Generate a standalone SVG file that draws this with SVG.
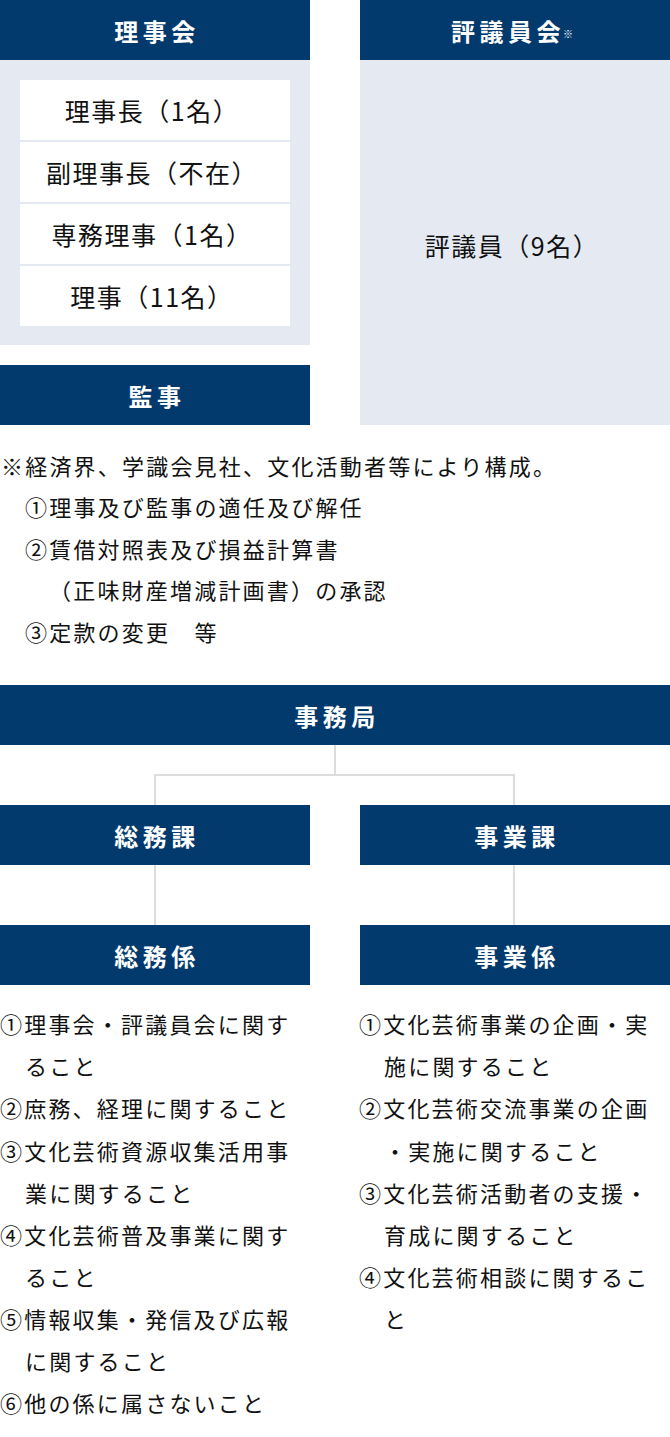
<svg xmlns="http://www.w3.org/2000/svg" width="670" height="1437" viewBox="0 0 670 1437">
<style>
.hd{fill:#023a6d}
.pn{fill:#e5e9f1}
.rw{fill:#ffffff}
.ht{font-family:"Noto Sans CJK JP","Noto Sans",sans-serif;font-weight:bold;font-size:24px;fill:#fff;text-anchor:middle;dominant-baseline:central;letter-spacing:4.5px}
.rt{font-family:"Noto Sans CJK JP","Noto Sans",sans-serif;font-size:25px;fill:#111;text-anchor:middle;dominant-baseline:central;letter-spacing:1.5px}
.bt{font-family:"Noto Sans CJK JP","Noto Sans",sans-serif;font-size:22px;fill:#111;dominant-baseline:central;letter-spacing:2.2px}
.sm{font-family:"Noto Sans CJK JP","Noto Sans",sans-serif;font-weight:bold;font-size:10px;fill:#fff;dominant-baseline:central}
.cn{stroke:#dcdcdc;stroke-width:2;fill:none}
</style>
<rect width="670" height="1437" fill="#fff"/>
<g id="rijikai">
<rect class="pn" x="0" y="60" width="310" height="285"/>
<rect class="hd" x="0" y="0" width="310" height="60"/>
<text class="ht" x="157" y="30">理事会</text>
<rect class="rw" x="20" y="80" width="270" height="60"/>
<text class="rt" x="152" y="110">理事長（1名）</text>
<rect class="rw" x="20" y="142" width="270" height="60"/>
<text class="rt" x="152" y="172">副理事長（不在）</text>
<rect class="rw" x="20" y="204" width="270" height="60"/>
<text class="rt" x="152" y="234">専務理事（1名）</text>
<rect class="rw" x="20" y="266" width="270" height="60"/>
<text class="rt" x="152" y="296">理事（11名）</text>
</g>
<g id="kanji">
<rect class="hd" x="0" y="365" width="310" height="60"/>
<text class="ht" x="157" y="395">監事</text>
</g>
<g id="hyogiinkai">
<rect class="pn" x="360" y="60" width="310" height="365"/>
<rect class="hd" x="360" y="0" width="310" height="60"/>
<text class="ht" x="508" y="30">評議員会</text>
<text class="sm" x="563" y="33">※</text>
<text class="rt" x="512" y="245">評議員（9名）</text>
</g>
<g id="note">
<text class="bt" x="1" y="465">※経済界、学識会見社、文化活動者等により構成。</text>
<text class="bt" x="25" y="506">①理事及び監事の適任及び解任</text>
<text class="bt" x="25" y="548">②賃借対照表及び損益計算書</text>
<text class="bt" x="49" y="589">（正味財産増減計画書）の承認</text>
<text class="bt" x="25" y="631">③定款の変更　等</text>
</g>
<g id="connectors">
<path class="cn" d="M335 745V775M155 805V775H514V805"/>
<path class="cn" d="M155 865V925M514 865V925"/>
</g>
<g id="jimukyoku">
<rect class="hd" x="0" y="685" width="670" height="60"/>
<text class="ht" x="337" y="715">事務局</text>
</g>
<g id="somuka">
<rect class="hd" x="0" y="805" width="310" height="60"/>
<text class="ht" x="157" y="835">総務課</text>
</g>
<g id="jigyoka">
<rect class="hd" x="360" y="805" width="310" height="60"/>
<text class="ht" x="517" y="835">事業課</text>
</g>
<g id="somukakari">
<rect class="hd" x="0" y="925" width="310" height="60"/>
<text class="ht" x="157" y="955">総務係</text>
<text class="bt" x="0" y="1023">①理事会・評議員会に関す</text>
<text class="bt" x="25" y="1065">ること</text>
<text class="bt" x="0" y="1107">②庶務、経理に関すること</text>
<text class="bt" x="0" y="1150">③文化芸術資源収集活用事</text>
<text class="bt" x="25" y="1192">業に関すること</text>
<text class="bt" x="0" y="1234">④文化芸術普及事業に関す</text>
<text class="bt" x="25" y="1276">ること</text>
<text class="bt" x="0" y="1318">⑤情報収集・発信及び広報</text>
<text class="bt" x="25" y="1360">に関すること</text>
<text class="bt" x="0" y="1402">⑥他の係に属さないこと</text>
</g>
<g id="jigyokakari">
<rect class="hd" x="360" y="925" width="310" height="60"/>
<text class="ht" x="517" y="955">事業係</text>
<text class="bt" x="359" y="1023">①文化芸術事業の企画・実</text>
<text class="bt" x="384" y="1065">施に関すること</text>
<text class="bt" x="359" y="1107">②文化芸術交流事業の企画</text>
<text class="bt" x="384" y="1150">・実施に関すること</text>
<text class="bt" x="359" y="1192">③文化芸術活動者の支援・</text>
<text class="bt" x="384" y="1234">育成に関すること</text>
<text class="bt" x="359" y="1276">④文化芸術相談に関するこ</text>
<text class="bt" x="384" y="1318">と</text>
</g>
</svg>
